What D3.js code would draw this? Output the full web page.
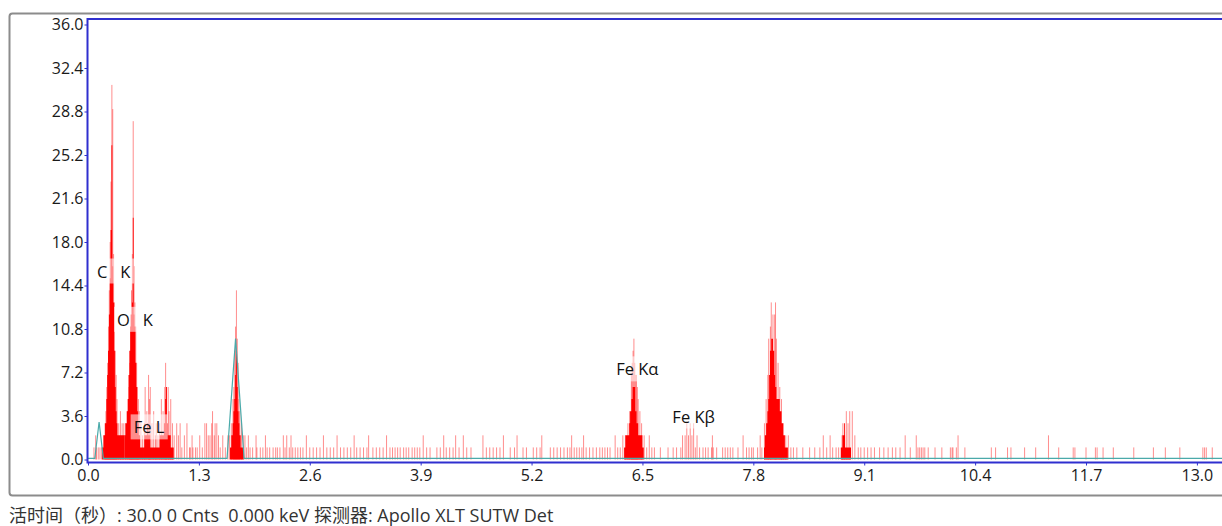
<!DOCTYPE html>
<html>
<head>
<meta charset="utf-8">
<script src="https://cdn.jsdelivr.net/npm/d3@7"></script>
<style>
  body { margin: 0; background: #fff; }
  svg { display: block; font-family: "Segoe UI", "Open Sans", "Noto Sans CJK SC", sans-serif; }
</style>
</head>
<body>
<svg id="chart" width="1222" height="526"></svg>
<script>
// axis ticks
var xTicks = [0.0, 1.3, 2.6, 3.9, 5.2, 6.5, 7.8, 9.1, 10.4, 11.7, 13.0];
var yTicks = [0.0, 3.6, 7.2, 10.8, 14.4, 18.0, 21.6, 25.2, 28.8, 32.4, 36.0];

// solid part of the peaks  [keV, counts]
var coreC = [[0.17,1],[0.19,2],[0.21,3],[0.22,5],[0.23,7],[0.24,9],[0.25,12],[0.26,15],[0.27,19],[0.28,26],[0.29,16],[0.30,13],[0.31,9],[0.32,6],[0.33,4],[0.34,3],[0.35,2],[0.40,2],[0.42,2]];
var coreO = [[0.43,2],[0.45,3],[0.46,4],[0.47,5],[0.48,7],[0.49,9],[0.50,11],[0.51,12],[0.52,13],[0.53,20],[0.54,12],[0.55,11],[0.56,8],[0.57,6],[0.58,4],[0.59,3],[0.60,2],[0.62,1],[0.64,1]];
var coreFeL = [[0.65,1],[0.67,2],[0.69,2],[0.70,3],[0.71,2],[0.72,2],[0.74,1],[0.78,1],[0.82,1],[0.86,2],[0.88,2],[0.90,3],[0.91,5],[0.92,6],[0.93,3],[0.94,2],[0.96,2],[0.98,1],[1.00,1]];
var coreSi = [[1.67,1],[1.69,2],[1.70,3],[1.71,4],[1.72,5],[1.73,7],[1.74,9],[1.75,6],[1.76,4],[1.77,3],[1.78,2],[1.80,1],[1.82,1]];
var coreFeKa = [[6.29,1],[6.31,2],[6.34,2],[6.35,3],[6.36,4],[6.38,5],[6.39,6],[6.41,6],[6.42,4],[6.44,3],[6.46,2],[6.49,2],[6.51,1]];
var coreCuKa = [[7.93,1],[7.94,2],[7.96,3],[7.97,4],[7.98,5],[7.99,7],[8.00,9],[8.02,10],[8.04,9],[8.05,7],[8.06,6],[8.08,5],[8.10,5],[8.12,4],[8.14,3],[8.16,2],[8.18,1],[8.20,1]];
var coreCuKb = [[8.83,1],[8.86,2],[8.87,3],[8.88,1],[8.91,1],[8.94,1]];

// single channel spikes over the peaks  [keV, counts]
var spikes = [
  [0.07,1],[0.09,2],[0.10,1],[0.12,1],[0.14,1],[0.16,1],
  [0.20,3],[0.21,4],[0.22,6],[0.23,8],[0.24,11],[0.25,14],[0.26,18],[0.27,23],[0.28,31],[0.29,29],[0.30,17],[0.31,13],[0.32,9],[0.33,7],[0.34,5],[0.36,3],[0.38,4],[0.40,3],[0.42,3],
  [0.44,3],[0.46,4],[0.48,6],[0.49,8],[0.50,12],[0.51,14],[0.52,17],[0.53,28],[0.54,16],[0.55,13],[0.56,11],[0.57,8],[0.58,6],[0.59,5],[0.60,4],[0.62,3],
  [0.64,2],[0.66,3],[0.67,6],[0.69,4],[0.71,7],[0.72,5],[0.73,6],[0.75,3],[0.77,4],[0.79,2],[0.80,3],[0.82,2],[0.84,3],[0.86,5],[0.88,4],[0.90,6],[0.91,8],[0.92,6],[0.94,6],[0.95,4],[0.97,5],[0.99,3],[1.01,2],[1.04,3],[1.06,2],[1.08,3],[1.10,1],[1.13,2],[1.16,3],[1.19,1],[1.22,2],
  [1.26,1],[1.31,2],[1.34,1],[1.37,3],[1.39,3],[1.41,2],[1.43,2],[1.45,3],[1.46,4],[1.48,2],[1.49,3],[1.51,3],[1.53,2],[1.55,1],[1.58,2],[1.61,1],[1.64,2],
  [1.66,2],[1.68,3],[1.70,5],[1.71,6],[1.72,9],[1.73,11],[1.74,14],[1.75,10],[1.76,8],[1.77,5],[1.78,4],[1.80,3],[1.82,2],[1.84,2],[1.86,1],[1.88,2],
  [6.27,2],[6.30,2],[6.33,3],[6.35,4],[6.37,7],[6.38,8],[6.39,9],[6.40,10],[6.41,8],[6.42,7],[6.43,7],[6.44,6],[6.45,5],[6.47,4],[6.49,3],[6.52,2],
  [6.95,1],[6.97,2],[7.00,2],[7.02,3],[7.04,2],[7.06,3],[7.08,2],[7.10,3],[7.12,1],[7.14,2],
  [7.88,2],[7.90,1],[7.93,3],[7.95,5],[7.97,7],[7.98,10],[8.00,11],[8.01,13],[8.03,12],[8.05,12],[8.06,13],[8.07,10],[8.09,8],[8.11,6],[8.13,5],[8.15,3],[8.18,2],[8.21,2],
  [8.84,2],[8.85,3],[8.87,2],[8.89,4],[8.91,3],[8.93,4],[8.96,4],[8.99,2]
];

// background channels with 1 and 2 counts (keV)
var noise1 = [1.20,1.23,1.28,1.90,1.93,1.98,2.02,2.05,2.10,2.13,2.17,2.20,2.22,2.25,2.31,2.36,2.40,2.43,2.46,2.49,2.52,2.60,2.64,2.68,2.72,2.80,2.84,2.88,2.96,3.00,3.04,3.08,3.15,3.19,3.23,3.27,3.34,3.38,3.42,3.46,3.54,3.57,3.60,3.63,3.66,3.70,3.73,3.76,3.80,3.83,3.86,3.89,3.97,4.01,4.09,4.13,4.20,4.24,4.28,4.35,4.44,4.49,4.67,4.71,4.75,4.79,4.83,4.95,5.00,5.10,5.14,5.22,5.26,5.30,5.42,5.46,5.50,5.54,5.58,5.62,5.65,5.70,5.73,5.76,5.79,5.84,5.88,5.92,5.96,6.00,6.03,6.06,6.09,6.12,6.21,6.24,6.55,6.61,6.64,6.71,6.80,6.86,6.90,7.17,7.21,7.24,7.27,7.31,7.33,7.37,7.44,7.47,7.50,7.53,7.56,7.62,7.72,7.75,7.78,7.80,7.85,8.24,8.27,8.31,8.38,8.46,8.52,8.58,8.66,8.73,8.77,8.80,9.03,9.06,9.10,9.14,9.18,9.22,9.28,9.33,9.38,9.43,9.47,9.52,9.64,9.73,9.75,9.77,9.79,9.81,9.85,9.93,10.01,10.11,10.13,10.14,10.18,10.28,10.59,10.64,10.78,10.82,10.98,11.11,11.38,11.55,11.57,11.70,11.81,11.83,11.90,12.02,12.26,12.49,12.63,12.80,13.07,13.09,13.11,13.18];
var noise2 = [1.97,2.08,2.29,2.33,2.38,2.56,2.76,2.92,3.12,3.29,3.50,3.93,4.17,4.31,4.40,4.63,4.87,5.03,5.32,5.67,5.81,6.18,6.58,7.32,7.68,8.62,8.70,9.58,9.71,10.20,11.26];

// fitted (teal) curve  [keV, counts]
var fit = [[0,0.1],[0.08,0.1],[0.13,3.1],[0.18,0.1],[1.63,0.1],[1.73,10.0],[1.83,0.1],[13.5,0.1]];

// peak labels
var labelText = ["C   K", "O   K", "Fe L", "Fe K\u03b1", "Fe K\u03b2"];
var labelKeV = [0.30, 0.55, 0.715, 6.44, 7.10];
var labelCnt = [15.6, 11.6, 2.7, 7.5, 3.6];

var footer = "活时间（秒）: 30.0 0 Cnts  0.000 keV 探测器: Apollo XLT SUTW Det";

var svg = d3.select("#chart");

var x = d3.scaleLinear().domain([0, 13.5]).range([88, 88 + 13.5 * 85.3]);
var y = d3.scaleLinear().domain([0, 36]).range([459.5, 24.5]);

// outer grey frame
svg.append("rect")
    .attr("x", 9.5).attr("y", 13.5)
    .attr("width", 1260).attr("height", 482)
    .attr("rx", 3)
    .attr("fill", "none")
    .attr("stroke", "#8c8c8c")
    .attr("stroke-width", 2);

var plot = svg.append("g");

// solid peak bodies
var area = d3.area()
    .curve(d3.curveStep)
    .x(function (d) { return x(d[0]); })
    .y0(y(0))
    .y1(function (d) { return y(d[1]); });

[coreC, coreO, coreFeL, coreSi, coreFeKa, coreCuKa, coreCuKb].forEach(function (c) {
    var pts = [[c[0][0] - 0.01, 0]].concat(c, [[c[c.length - 1][0] + 0.01, 0]]);
    plot.append("path")
        .attr("d", area(pts))
        .attr("fill", "#ff0000");
});

// thin channel lines
var lines = spikes
    .concat(noise1.map(function (e) { return [e, 1]; }))
    .concat(noise2.map(function (e) { return [e, 2]; }));

plot.selectAll(".ch")
    .data(lines)
    .enter().append("line")
    .attr("class", "ch")
    .attr("x1", function (d) { return x(d[0]); })
    .attr("x2", function (d) { return x(d[0]); })
    .attr("y1", y(0))
    .attr("y2", function (d) { return y(d[1]); })
    .attr("stroke", "#ff0000")
    .attr("stroke-opacity", 0.45)
    .attr("stroke-width", 1);

// teal fit
var line = d3.line()
    .x(function (d) { return x(d[0]); })
    .y(function (d) { return y(d[1]); });

plot.append("path")
    .attr("d", line(fit))
    .attr("fill", "none")
    .attr("stroke", "#4aaaaa")
    .attr("stroke-width", 1.2);

// blue frame of the plot
svg.append("path")
    .attr("d", "M1230,19 H87.5 V462.5 H1230")
    .attr("fill", "none")
    .attr("stroke", "#2f2fcf")
    .attr("stroke-width", 2);

// axes
var xAxis = svg.append("g")
    .attr("transform", "translate(0,462.5)")
    .call(d3.axisBottom(x).tickValues(xTicks).tickFormat(d3.format(".1f")).tickSize(3).tickPadding(4));
var yAxis = svg.append("g")
    .attr("transform", "translate(87.5,0)")
    .call(d3.axisLeft(y).tickValues(yTicks).tickFormat(d3.format(".1f")).tickSize(3).tickPadding(1));

[xAxis, yAxis].forEach(function (a) {
    a.select(".domain").remove();
    a.selectAll(".tick line").attr("stroke", "#2f2fcf");
    a.selectAll(".tick text")
        .attr("fill", "#1a1a1a")
        .style("font-size", "16px")
        .style("font-family", "'Segoe UI', 'Open Sans', sans-serif");
});

// peak labels with light boxes
labelText.forEach(function (t, i) {
    var g = svg.append("g");
    var txt = g.append("text")
        .attr("x", x(labelKeV[i]))
        .attr("y", y(labelCnt[i]))
        .attr("text-anchor", "middle")
        .attr("dominant-baseline", "central")
        .style("white-space", "pre")
        .style("font-size", "16.5px")
        .attr("fill", "#111")
        .text(t);
    var b = txt.node().getBBox();
    g.insert("rect", "text")
        .attr("x", b.x - 3).attr("y", b.y - 1)
        .attr("width", b.width + 6).attr("height", b.height + 2)
        .attr("fill", "#ffffff")
        .attr("fill-opacity", 0.55);
});

// status line
svg.append("text")
    .attr("x", 9)
    .attr("y", 522)
    .style("white-space", "pre")
    .style("font-size", "18px")
    .attr("fill", "#333")
    .text(footer);
</script>
</body>
</html>
